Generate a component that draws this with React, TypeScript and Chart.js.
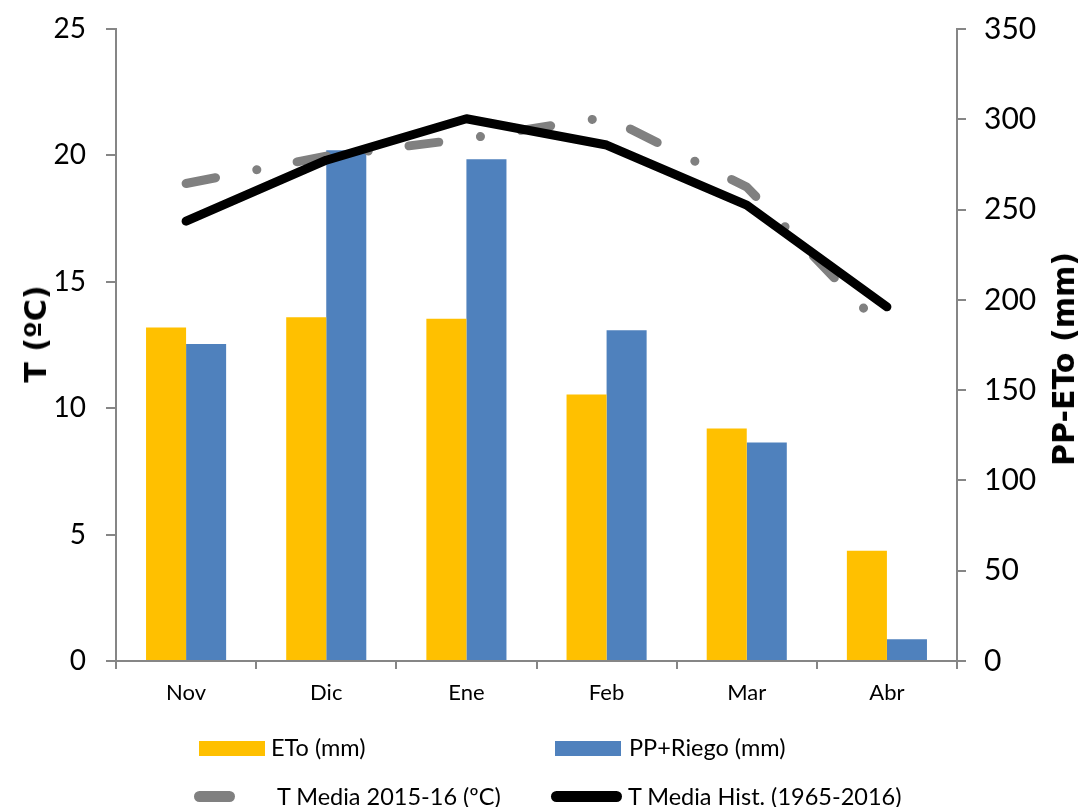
import React, { useEffect, useRef } from 'react';
import { Chart, registerables } from 'chart.js';

Chart.register(...registerables);

// ---- Data ----
const categories = ['Nov', 'Dic', 'Ene', 'Feb', 'Mar', 'Abr'];
const etoMm = [184.7, 190.4, 189.5, 147.6, 128.8, 61.0];
const ppRiegoMm = [175.5, 282.8, 277.8, 183.1, 121.0, 12.0];
const tMedia201516 = [18.89, 19.97, 20.66, 21.51, 18.75, 13.0];
const tMediaHist = [17.4, 19.81, 21.45, 20.41, 18.03, 14.01];
const tempAxis = { min: 0, max: 25, step: 5 };
const mmAxis = { min: 0, max: 350, step: 50 };

const seriesLabels = {
  eto: 'ETo (mm)',
  pp: 'PP+Riego (mm)',
  t1516: 'T Media 2015-16 (ºC)',
  hist: 'T Media Hist. (1965-2016)',
};

const AXIS_GRAY = '#868686';
const FONT = 'Lato';

export default function App() {
  const canvasRef = useRef<HTMLCanvasElement | null>(null);

  useEffect(() => {
    const canvas = canvasRef.current;
    if (!canvas) return;
    const chart = new Chart(canvas, {
      type: 'bar',
      data: {
        labels: categories,
        datasets: [
          {
            type: 'line',
            label: seriesLabels.hist,
            data: tMediaHist,
            yAxisID: 'yT',
            borderColor: '#000000',
            backgroundColor: '#000000',
            borderWidth: 9,
            borderCapStyle: 'round',
            borderJoinStyle: 'round',
            pointRadius: 0,
            tension: 0,
            fill: false,
            order: 0,
          } as any,
          {
            type: 'line',
            label: seriesLabels.t1516,
            data: tMedia201516,
            yAxisID: 'yT',
            borderColor: '#808080',
            backgroundColor: '#808080',
            borderWidth: 9,
            borderCapStyle: 'round',
            borderJoinStyle: 'round',
            borderDash: [30, 42, 0.1, 41],
            pointRadius: 0,
            tension: 0,
            fill: false,
            order: 1,
          } as any,
          {
            type: 'bar',
            label: seriesLabels.eto,
            data: etoMm,
            yAxisID: 'yMm',
            backgroundColor: '#FFC000',
            categoryPercentage: 0.5714,
            barPercentage: 1,
            order: 2,
          } as any,
          {
            type: 'bar',
            label: seriesLabels.pp,
            data: ppRiegoMm,
            yAxisID: 'yMm',
            backgroundColor: '#4F81BD',
            categoryPercentage: 0.5714,
            barPercentage: 1,
            order: 3,
          } as any,
        ],
      },
      options: {
        animation: false,
        responsive: true,
        maintainAspectRatio: false,
        layout: { padding: { top: 29, left: 0, right: 0, bottom: 0 } },
        plugins: {
          legend: { display: false },
          tooltip: { enabled: false },
        },
        scales: {
          x: {
            offset: true,
            grid: {
              offset: true,
              drawOnChartArea: false,
              drawTicks: true,
              tickLength: 8,
              color: AXIS_GRAY,
              lineWidth: 2,
            },
            border: { display: true, color: AXIS_GRAY, width: 2 },
            ticks: { font: { family: FONT, size: 22 }, color: '#000', padding: 11 },
            afterFit: (s: any) => {
              s.height = 146;
              s.paddingLeft = 0;
              s.paddingRight = 0;
            },
          },
          yT: {
            position: 'left',
            min: tempAxis.min,
            max: tempAxis.max,
            ticks: {
              stepSize: tempAxis.step,
              font: { family: FONT, size: 28 },
              color: '#000',
              padding: 20,
            },
            grid: {
              drawOnChartArea: false,
              drawTicks: true,
              tickLength: 10,
              color: AXIS_GRAY,
              lineWidth: 2,
            },
            border: { display: true, color: AXIS_GRAY, width: 2 },
            afterFit: (s: any) => {
              s.width = 116;
              s.paddingTop = 0;
              s.paddingBottom = 0;
            },
          },
          yMm: {
            position: 'right',
            min: mmAxis.min,
            max: mmAxis.max,
            ticks: {
              stepSize: mmAxis.step,
              font: { family: FONT, size: 30 },
              color: '#000',
              padding: 18,
            },
            grid: {
              drawOnChartArea: false,
              drawTicks: true,
              tickLength: 9,
              color: AXIS_GRAY,
              lineWidth: 2,
            },
            border: { display: true, color: AXIS_GRAY, width: 2 },
            afterFit: (s: any) => {
              s.width = 125;
              s.paddingTop = 0;
              s.paddingBottom = 0;
            },
          },
        },
      } as any,
    });
    return () => chart.destroy();
  }, []);

  const legendText: React.CSSProperties = {
    position: 'absolute',
    fontFamily: FONT,
    fontSize: 23.5,
    lineHeight: '24px',
    color: '#000',
    whiteSpace: 'nowrap',
  };
  const titleStyle: React.CSSProperties = {
    position: 'absolute',
    fontFamily: 'DejaVu Sans',
    fontWeight: 'bold',
    fontSize: 30,
    lineHeight: '30px',
    color: '#000',
    whiteSpace: 'nowrap',
    transform: 'translate(-50%, -50%) rotate(-90deg)',
  };

  return (
    <div
      style={{
        position: 'absolute',
        left: 0,
        top: 0,
        width: 1082,
        height: 807,
        overflow: 'hidden',
        background: '#fff',
      }}
    >
      <div style={{ position: 'absolute', left: 0, top: 0, width: 1082, height: 807 }}>
        <canvas ref={canvasRef} />
      </div>
      <div style={{ ...titleStyle, left: 36, top: 334 }}>T (ºC)</div>
      <div style={{ ...titleStyle, left: 1064, top: 359 }}>PP-ETo (mm)</div>

      {/* Legend */}
      <div style={{ position: 'absolute', left: 199, top: 741, width: 66, height: 15, background: '#FFC000' }} />
      <div style={{ ...legendText, left: 271, top: 735 }}>{seriesLabels.eto}</div>
      <div style={{ position: 'absolute', left: 555, top: 741, width: 66, height: 15, background: '#4F81BD' }} />
      <div style={{ ...legendText, left: 629, top: 735 }}>{seriesLabels.pp}</div>

      <div style={{ position: 'absolute', left: 194, top: 791, width: 41, height: 11, borderRadius: 6, background: '#808080' }} />
      <div style={{ ...legendText, left: 277, top: 784 }}>{seriesLabels.t1516}</div>
      <div style={{ position: 'absolute', left: 551, top: 791, width: 71, height: 11, borderRadius: 6, background: '#000' }} />
      <div style={{ ...legendText, left: 628, top: 784 }}>{seriesLabels.hist}</div>
    </div>
  );
}
